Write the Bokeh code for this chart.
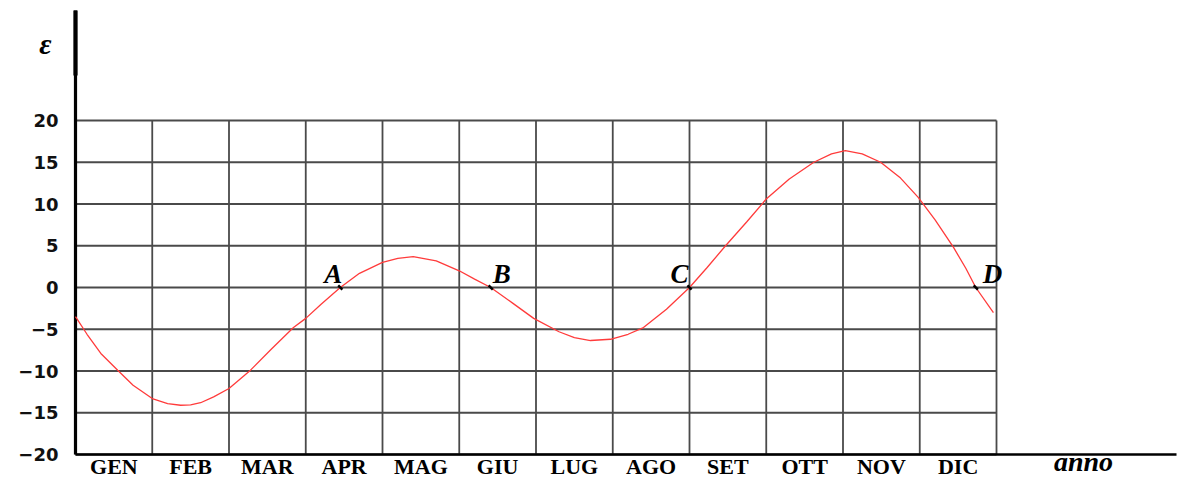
from bokeh.plotting import figure
from bokeh.models import Range1d, ColumnDataSource
from bokeh.embed import file_html
from bokeh.resources import INLINE
from bokeh.core.properties import value

# ---- data ----
months = ["GEN", "FEB", "MAR", "APR", "MAG", "GIU", "LUG", "AGO", "SET", "OTT", "NOV", "DIC"]
y_ticks = [-20, -15, -10, -5, 0, 5, 10, 15, 20]

# position along the year (in months from 1 January) and equation of time (minutes)
month_pos = [0.00, 0.15, 0.33, 0.55, 0.75, 1.00, 1.20, 1.37, 1.50, 1.63, 1.80,
             2.00, 2.28, 2.55, 2.84, 3.00, 3.20, 3.45, 3.70, 4.00, 4.20,
             4.40, 4.70, 5.00, 5.20, 5.41, 5.70, 5.97, 6.30, 6.50, 6.71,
             6.97, 7.20, 7.40, 7.70, 8.00, 8.23, 8.47, 8.75, 9.00, 9.30,
             9.62, 9.85, 10.03, 10.25, 10.49, 10.75, 10.98, 11.20, 11.44, 11.60,
             11.73, 11.96]
eps_values = [-3.5, -5.6, -7.9, -9.9, -11.7, -13.3, -13.9, -14.1, -14.05, -13.8, -13.1,
              -12.1, -9.9, -7.4, -4.8, -3.7, -2.0, 0.0, 1.7, 3.0, 3.5,
              3.7, 3.2, 2.0, 1.0, 0.0, -1.9, -3.7, -5.3, -6.0, -6.35,
              -6.2, -5.6, -4.8, -2.6, 0.0, 2.4, 5.0, 7.9, 10.6, 13.0,
              15.0, 16.0, 16.4, 16.0, 15.0, 13.1, 10.8, 8.1, 4.8, 2.3,
              0.0, -3.0]

point_names = ["A", "B", "C", "D"]
point_pos = [3.45, 5.41, 8.00, 11.73]
point_vals = [0.0, 0.0, 0.0, 0.0]

# ---- layout (pixels of the 1182 x 478 page) ----
W, H = 1182, 478
X0_PX, PX_PER_MONTH = 75, 76.75      # month 0 position and month width
Y0_PX, PX_PER_UNIT = 287, 8.35       # value 0 position and unit height
BASELINE_FIX = 10                    # svg baseline correction (px)

x_lo = -X0_PX / PX_PER_MONTH
x_hi = (W - X0_PX) / PX_PER_MONTH
y_hi = Y0_PX / PX_PER_UNIT
y_lo = -(H - Y0_PX) / PX_PER_UNIT

def px_to_x(px):
    return (px - X0_PX) / PX_PER_MONTH

def py_to_y(py):
    return (Y0_PX - py) / PX_PER_UNIT

n_months = len(months)
y_min, y_max = min(y_ticks), max(y_ticks)

p = figure(width=W, height=H, x_range=Range1d(x_lo, x_hi), y_range=Range1d(y_lo, y_hi),
           x_axis_type=None, y_axis_type=None,
           output_backend="svg", toolbar_location=None, min_border=0)
p.outline_line_color = None
p.background_fill_color = "white"
p.border_fill_color = "white"

# grid drawn only over the year / value span
vx = list(range(n_months + 1))
p.segment(x0=vx, y0=[y_min] * len(vx), x1=vx, y1=[y_max] * len(vx),
          line_color="#4a4a4a", line_width=1.8)
p.segment(x0=[0] * len(y_ticks), y0=y_ticks, x1=[n_months] * len(y_ticks), y1=y_ticks,
          line_color="#4a4a4a", line_width=1.8)

# axis lines
p.segment(x0=[0], y0=[y_min], x1=[0], y1=[py_to_y(10)], line_color="black", line_width=3.2)
p.segment(x0=[0], y0=[py_to_y(10)], x1=[0], y1=[py_to_y(75)], line_color="black", line_width=4.2)
p.segment(x0=[0], y0=[y_min], x1=[px_to_x(1176)], y1=[y_min], line_color="black", line_width=2.6)

# curve
p.line(month_pos, eps_values, line_color="#ff3b3b", line_width=1.3)

# points A-D
src = ColumnDataSource(dict(x=point_pos, y=point_vals, name=point_names,
                            align=["right", "left", "right", "left"],
                            dx=[2, 2, -1, 7]))
p.scatter("x", "y", source=src, marker="dash", size=6, angle=-0.8,
          line_color="black", line_width=2.5)
p.text("x", "y", text="name", source=src, text_align="align", x_offset="dx",
       y_offset=-4 - BASELINE_FIX, text_baseline="alphabetic",
       text_font=value("Liberation Serif"), text_font_style="bold italic",
       text_font_size="27px", text_color="black")

# y tick labels
p.text(x=[0] * len(y_ticks), y=y_ticks,
       text=[str(t).replace("-", "\u2212") for t in y_ticks],
       x_offset=-17, text_align="right", text_baseline="middle",
       text_font=value("DejaVu Sans"), text_font_style="bold",
       text_font_size="18px", text_color="#111111")

# month labels
p.text(x=[i + 0.5 for i in range(n_months)], y=[y_min] * n_months, text=months,
       y_offset=-1, text_align="center", text_baseline="top",
       text_font=value("Liberation Serif"), text_font_style="bold",
       text_font_size="22px", text_color="black")

# axis titles
p.text(x=[px_to_x(45)], y=[py_to_y(53 - BASELINE_FIX)], text=["\u03b5"], text_align="center",
       text_baseline="alphabetic", text_font=value("Liberation Serif"),
       text_font_style="bold italic", text_font_size="30px", text_color="black")
p.text(x=[px_to_x(1083)], y=[py_to_y(471 - BASELINE_FIX)], text=["anno"], text_align="center",
       text_baseline="alphabetic", text_font=value("Liberation Serif"),
       text_font_style="bold italic", text_font_size="28px", text_color="black")

open("out.html", "w").write(file_html(p, INLINE))
